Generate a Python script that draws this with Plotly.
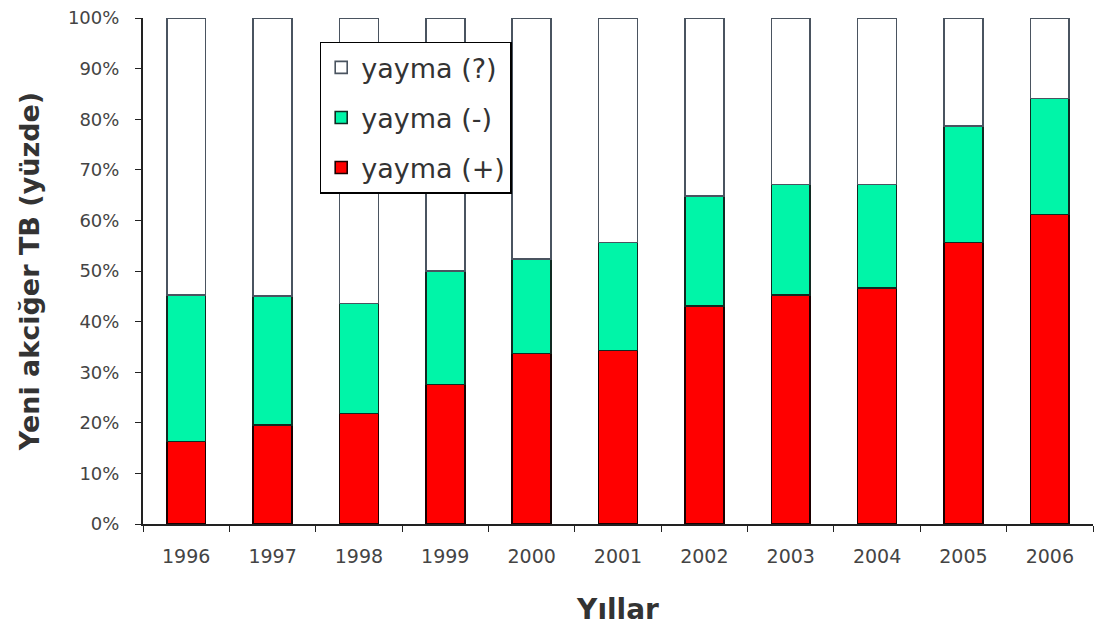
import plotly.graph_objects as go

years = ["1996", "1997", "1998", "1999", "2000", "2001", "2002", "2003", "2004", "2005", "2006"]
pos = [16.3, 19.6, 21.8, 27.6, 33.7, 34.3, 43.1, 45.2, 46.7, 55.6, 61.2]
neg = [28.9, 25.5, 21.8, 22.4, 18.7, 21.3, 21.7, 21.9, 20.4, 23.1, 22.9]
unk = [54.8, 54.9, 56.4, 50.0, 47.6, 44.4, 35.2, 32.9, 32.9, 21.3, 15.9]
yticks = [0, 10, 20, 30, 40, 50, 60, 70, 80, 90, 100]
ytick_labels = [f"{v}%" for v in yticks]

FONT = "DejaVu Sans, Liberation Sans, Arial, sans-serif"

fig = go.Figure()
specs = [("yayma (+)", pos, "#ff0000", "#1a0000", 3),
         ("yayma (-)", neg, "#00f5a8", "#102a22", 2),
         ("yayma (?)", unk, "#ffffff", "#4a5460", 1)]
for i, (name, vals, col, lc, rank) in enumerate(specs):
    fig.add_trace(go.Bar(
        x=years, y=vals, name=name, legendgroup=f"g{i}", legendrank=rank,
        marker=dict(color=col, line=dict(color=lc, width=1.6)),
        width=0.45,
    ))

fig.update_layout(
    barmode="stack",
    width=1101, height=623,
    margin=dict(l=135, r=16, t=10, b=107, autoexpand=False),
    plot_bgcolor="white", paper_bgcolor="white",
    font=dict(family=FONT, color="#333333"),
    showlegend=True,
    legend=dict(
        x=0.186, y=0.953, xanchor="left", yanchor="top",
        traceorder="grouped", tracegroupgap=12,
        bordercolor="#000000", borderwidth=1.5, bgcolor="white",
        font=dict(size=27, color="#333333"),
    ),
    xaxis=dict(
        range=[-0.5, 10.5], showline=True, linecolor="#222222", linewidth=2,
        automargin=False,
        ticks="outside", tickson="boundaries", ticklen=6, tickcolor="#222222",
        ticklabelstandoff=14,
        tickfont=dict(size=19, color="#444444"),
        title=dict(text="<b>Yıllar</b>", font=dict(size=28, color="#333333"), standoff=34),
    ),
    yaxis=dict(
        range=[0, 100], tickvals=yticks, ticktext=ytick_labels,
        showline=True, linecolor="#222222", linewidth=2, showgrid=False, zeroline=False,
        automargin=False,
        ticks="outside", ticklen=6, tickcolor="#222222",
        ticklabelstandoff=12, ticklabeloverflow="allow",
        tickfont=dict(size=18, color="#444444"),
        title=dict(text="<b>Yeni akciğer TB (yüzde)</b>", font=dict(size=27, color="#333333"), standoff=20),
    ),
)

fig.write_html("out.html")
